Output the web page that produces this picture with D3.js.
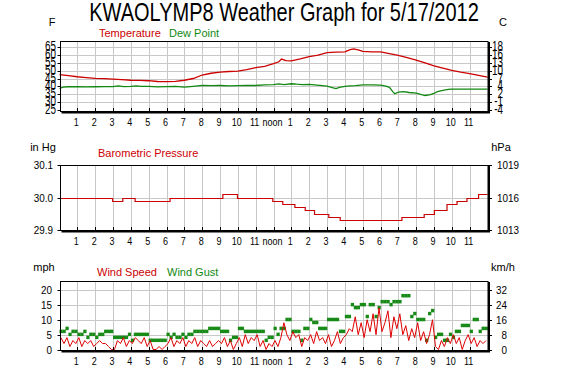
<!DOCTYPE html>
<html><head><meta charset="utf-8">
<script src="https://cdn.jsdelivr.net/npm/d3@7"></script>
<style>body{margin:0;background:#fff}svg{display:block}text{font-family:"Liberation Sans",Arial,sans-serif}</style>
</head><body><svg id="c" width="577" height="384"></svg>
<script>
// ---------- data ----------
const hourLabels = ["1","2","3","4","5","6","7","8","9","10","11","noon","1","2","3","4","5","6","7","8","9","10","11"];

const tempTicks = [25,30,35,40,45,50,55,60,65];
const celsiusLabels = ["-4","-1","2","4","7","10","13","16","18"];
const tempTimes = [0,0.5,1,1.5,2,2.5,3,3.5,4,4.5,5,5.5,6,6.5,7,7.5,8,8.5,9,9.5,10,10.5,11,11.5,12,12.3,12.45,12.7,13,13.5,14,14.5,15,15.5,16,16.3,16.5,16.8,17,17.5,18,18.5,19,19.5,20,20.5,21,21.5,22,22.5,23,23.5,24];
const tempValues = [47.4,46.8,46.1,45.6,45.1,44.9,44.6,44.3,43.9,43.8,43.6,43.1,43.0,43.2,43.9,45.0,47.2,48.3,49.0,49.4,49.7,50.6,51.8,52.6,54.3,55.5,57.2,56.2,56.1,57.3,58.8,59.7,61.3,61.6,61.8,63.1,63.6,62.9,62.1,61.8,61.8,60.7,59.6,58.2,56.6,54.8,53.0,51.5,50.1,49.0,48.1,47.0,45.9];
const dewTimes = [0,0.2,0.5,1,1.5,2,2.5,3,3.3,3.6,4,4.3,4.6,5,5.5,6,6.5,7,7.5,8,8.5,9,9.5,10,10.5,11,11.5,12,12.3,12.6,13,13.3,13.6,14,14.3,14.6,15,15.3,15.5,15.7,16,16.3,16.6,17,17.5,18,18.3,18.5,18.7,18.8,19,19.3,19.6,20,20.3,20.5,20.8,21,21.2,21.5,21.8,22,23,24];
const dewValues = [38.7,39.6,39.8,39.8,39.7,39.8,39.9,39.9,40.3,39.9,40.1,40.4,40.0,40.1,39.7,39.9,40.0,39.6,40.1,40.7,40.5,40.6,40.3,40.5,40.6,40.6,41.0,41.1,41.6,41.2,41.7,41.4,41.2,41.3,41.0,40.7,40.2,39.2,38.6,39.4,40.0,40.3,40.5,41.0,41.0,40.8,40.2,39.4,36.6,35.4,36.4,36.8,36.2,35.8,34.8,34.3,34.8,35.7,36.8,37.6,38.2,38.3,38.3,38.3];

const pressTicks = [29.9,30.0,30.1];
const hpaLabels = ["1013","1016","1019"];
const pressTimes = [0,2.98,3.55,4.24,6.2,9.16,9.98,11.96,12.52,13.2,13.78,14.3,15.1,15.74,19.2,20.45,21.02,21.73,22.29,22.85,23.5,24];
const pressValues = [30.00,29.99,30.00,29.99,30.00,30.01,30.00,29.99,29.98,29.97,29.96,29.95,29.94,29.93,29.94,29.95,29.96,29.98,29.99,30.00,30.01,30.01];

const mphTicks = [0,5,10,15,20];
const kmhTicks = [0,8,16,24,32];
// 10-minute samples, 6 per hour
const windSpeed = [
4,2,4,1,3,2, 4,1,3,2,3,1, 2,3,2,2,1,0, 0,3,2,4,1,3, 2,4,3,2,4,1, 3,0,0,1,0,1,
2,4,1,3,2,4, 1,3,2,4,1,3, 2,1,3,1,2,3, 2,4,1,3,0,2, 4,1,5,2,4,3, 5,1,3,0,2,1,
3,1,4,9,5,3, 6,4,5,1,4,3, 5,2,6,3,4,2, 5,1,3,6,2,4, 5,7,6,11,5,9, 4,10,6,12,5,14,
6,9,13,4,11,7, 12,5,8,3,7,4, 9,3,6,2,5,10, 1,0,3,1,4,2, 5,2,4,0,3,5, 2,4,1,3,2,3];
const windGust = [
6,6,7,5,6,6, 5,5,6,4,5,5, 4,5,5,6,6,6, 4,4,4,4,4,5, 3,5,5,5,5,5, 3,3,3,3,3,3,
5,4,5,4,4,5, 4,5,5,6,6,6, 6,6,7,7,7,7, 6,6,6,3,4,4, 7,7,6,6,6,6, 6,6,6,3,4,4,
7,5,7,7,10,10, 6,6,6,3,7,7, 10,9,9,7,7,7, 10,10,10,10,6,6, 11,11,15,14,14,15, 15,11,15,15,11,14,
16,16,16,15,16,16, 16,18,18,18,11,12, 10,10,10,3,12,13, 4,5,5,3,3,5, 4,6,6,8,8,8, 6,10,10,6,7,7];

// ---------- drawing ----------
const RED = "#cc0000", GREEN = "#1a8a1a", GRID = "#c8c8c8";
const svg = d3.select("#c");
svg.append("rect").attr("width",577).attr("height",384).attr("fill","#fff");

const L = 60.5, R = 488;
const x = d3.scaleLinear().domain([0,24]).range([59.5, 487.5]);

function txt(s, tx, ty, o = {}) {
  const t = svg.append("text")
    .attr("transform", `translate(${tx},${ty}) scale(${o.sx||1},${o.sy||1})`)
    .attr("text-anchor", o.anchor || "start")
    .attr("font-size", o.size || 11)
    .attr("fill", o.fill || "#000")
    .text(s);
  return t;
}

function panel(top, bottom, y, gridVals) {
  const g = svg.append("g");
  g.append("rect").attr("x",L).attr("y",top).attr("width",R-L).attr("height",bottom-top).attr("fill","#fff");
  // vertical hour grid
  g.selectAll(".vg").data(d3.range(1,24)).join("line")
    .attr("x1",d=>Math.round(x(d))+0.5).attr("x2",d=>Math.round(x(d))+0.5)
    .attr("y1",top).attr("y2",bottom).attr("stroke",GRID).attr("stroke-width",1);
  g.selectAll(".hg").data(gridVals).join("line")
    .attr("x1",L).attr("x2",R)
    .attr("y1",d=>Math.round(y(d))+0.5).attr("y2",d=>Math.round(y(d))+0.5)
    .attr("stroke",GRID).attr("stroke-width",1);
  return g;
}
function frame(top, bottom, y, tickVals, rightVals) {
  const g = svg.append("g");
  g.append("rect").attr("x",L).attr("y",top+0.5).attr("width",R-L).attr("height",bottom-top)
    .attr("fill","none").attr("stroke","#000").attr("stroke-width",1);
  g.append("line").attr("x1",R+1).attr("x2",R+1).attr("y1",top+1).attr("y2",bottom+2).attr("stroke","#000").attr("stroke-width",2);
  g.append("line").attr("x1",L+1).attr("x2",R+2).attr("y1",bottom+1.5).attr("y2",bottom+1.5).attr("stroke","#000").attr("stroke-width",2);
  g.selectAll(".lt").data(tickVals).join("line")
    .attr("x1",L-3).attr("x2",L).attr("y1",d=>Math.round(y(d))+0.5).attr("y2",d=>Math.round(y(d))+0.5)
    .attr("stroke","#000");
  g.selectAll(".rt").data(rightVals).join("line")
    .attr("x1",R).attr("x2",R+4).attr("y1",d=>Math.round(y(d))+0.5).attr("y2",d=>Math.round(y(d))+0.5)
    .attr("stroke","#000");
  // hour ticks on bottom
  g.selectAll(".bt").data(d3.range(1,24)).join("line")
    .attr("x1",d=>Math.round(x(d))+0.5).attr("x2",d=>Math.round(x(d))+0.5)
    .attr("y1",bottom-3).attr("y2",bottom).attr("stroke","#000");
}
function hours(yb) {
  hourLabels.forEach((s,i)=> txt(s, x(i+1)-1, yb, {anchor:"middle", size:10, sx:0.9}));
}

// Title
txt("KWAOLYMP8 Weather Graph for 5/17/2012", 284, 21, {anchor:"middle", size:25, sx:0.8});

// ---- Panel 1: temperature ----
const yT = d3.scaleLinear().domain([25,65]).range([110.3,46.7]);
panel(41,111,yT,tempTicks.slice(1));
const line1 = d3.line().x((d,i)=>x(d[0])).y(d=>yT(d[1]));
svg.append("path").attr("d", line1(d3.zip(dewTimes,dewValues))).attr("fill","none").attr("stroke","#118811").attr("stroke-width",1.3);
svg.append("path").attr("d", line1(d3.zip(tempTimes,tempValues))).attr("fill","none").attr("stroke",RED).attr("stroke-width",1.3);
frame(41,111,yT,tempTicks,tempTicks);
tempTicks.forEach(v=> txt(String(v), 56, yT(v)+4, {anchor:"end", size:11, sx:0.9, sy:1.25}));
tempTicks.forEach((v,i)=> txt(celsiusLabels[i], 503, yT(v)+4, {anchor:"end", size:11, sx:0.9, sy:1.25}));
txt("F", 52, 26, {anchor:"middle", size:11});
txt("C", 503, 26, {anchor:"middle", size:11});
txt("Temperature", 99, 37, {size:11, fill:RED});
txt("Dew Point", 169, 37, {size:11, fill:"#118811"});
hours(126);

// ---- Panel 2: pressure ----
const yP = d3.scaleLinear().domain([29.9,30.1]).range([230,165]);
panel(165,230,yP,[30.0]);
svg.append("path").attr("d", d3.line().curve(d3.curveStepAfter).x(d=>x(d[0])).y(d=>Math.round(yP(d[1]))+0.5)(d3.zip(pressTimes,pressValues)))
  .attr("fill","none").attr("stroke",RED).attr("stroke-width",1.2);
frame(165,230,yP,pressTicks,pressTicks);
pressTicks.forEach(v=> txt(v.toFixed(1), 53, yP(v)+4, {anchor:"end", size:11, sx:0.9}));
pressTicks.forEach((v,i)=> txt(hpaLabels[i], 497, yP(v)+4, {anchor:"start", size:11, sx:0.9}));
txt("in Hg", 43, 151, {anchor:"middle", size:11});
txt("hPa", 501, 151, {anchor:"middle", size:11});
txt("Barometric Pressure", 98, 157, {size:11, fill:RED});
hours(245);

// ---- Panel 3: wind ----
const yW = d3.scaleLinear().domain([0,20]).range([349.5,290]);
panel(281,350,yW,mphTicks.slice(1));
const dt = 1/6;
svg.append("g").selectAll("rect").data(windGust).join("rect")
  .attr("x",(d,i)=>x(i*dt)).attr("width",(d,i)=>x((i+1)*dt)-x(i*dt)+0.3)
  .attr("y",d=>yW(d)-2).attr("height",3.5).attr("fill","#178a17");
svg.append("path").attr("d", d3.line().x((d,i)=>x(i*dt+dt/2)).y(d=>yW(d))(windSpeed))
  .attr("fill","none").attr("stroke","#e00000").attr("stroke-width",1);
const kmh2mph = k => k/1.609344;
frame(281,350,yW,mphTicks,kmhTicks.map(kmh2mph));
mphTicks.forEach(v=> txt(String(v), 52, yW(v)+4, {anchor:"end", size:11, sx:0.9}));
kmhTicks.forEach(v=> txt(String(v), 507, yW(kmh2mph(v))+4, {anchor:"end", size:11, sx:0.9}));
txt("mph", 44, 271, {anchor:"middle", size:11});
txt("km/h", 503, 271, {anchor:"middle", size:11});
txt("Wind Speed", 97, 276, {size:11, fill:RED});
txt("Wind Gust", 167, 276, {size:11, fill:"#118811"});
hours(365);
</script></body></html>
